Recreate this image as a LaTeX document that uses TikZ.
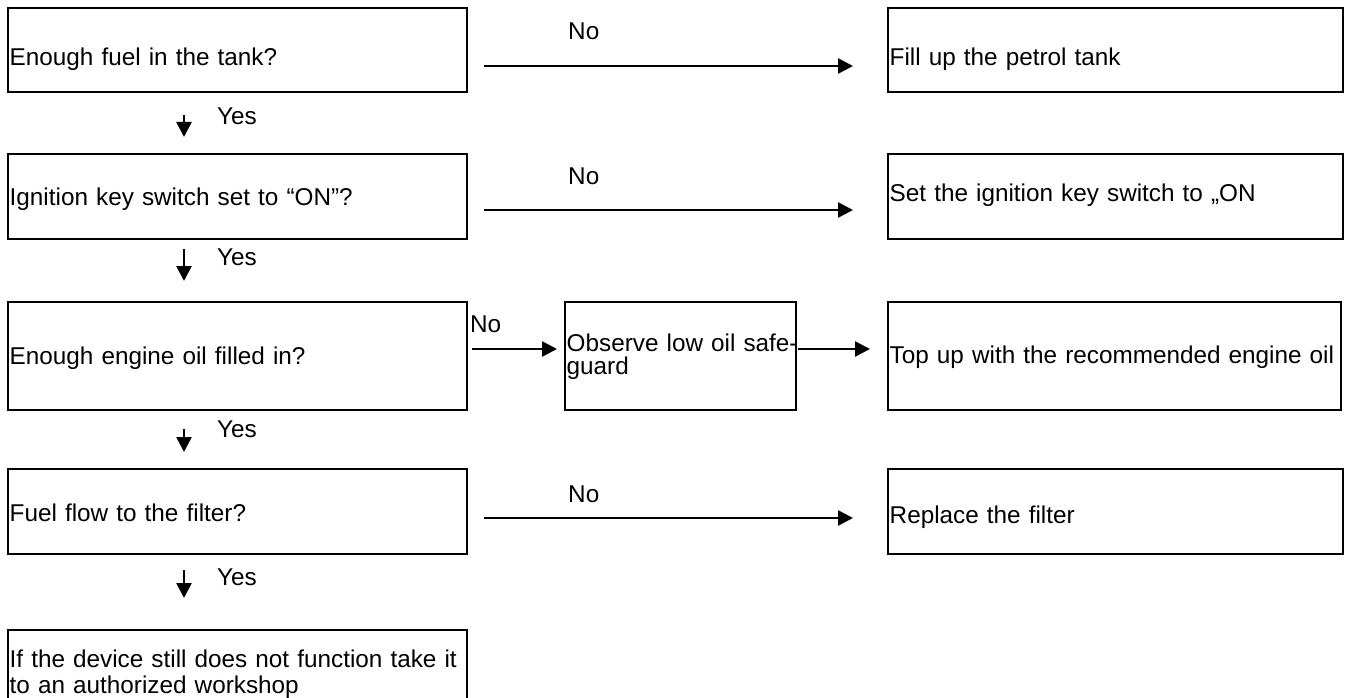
\documentclass[tikz,border=0pt]{standalone}
\usepackage{fontspec}
\setmainfont{Liberation Sans}
\usetikzlibrary{arrows.meta}
\tikzset{
  box/.style={draw, line width=2.4pt, rectangle, anchor=north west, inner xsep=1.5pt, inner ysep=0pt, align=left, font=\fontsize{24.3}{26}\selectfont},
  arr/.style={line width=2.6pt, -{Triangle[length=15pt,width=15pt]}},
  lbl/.style={anchor=base west, inner sep=0pt, font=\fontsize{24.3}{26}\selectfont},
}
\begin{document}
\begin{tikzpicture}[x=1pt,y=-1pt]
\useasboundingbox (0,0) rectangle (1350,698);
% left column
\node[box, minimum width=459pt, minimum height=84pt, text width=456pt, text height=57pt, text depth=27pt] (B1) at (7,7) {Enough fuel in the tank?};
\node[box, minimum width=459pt, minimum height=85pt, text width=456pt, text height=51pt, text depth=34pt] (B2) at (7,153) {Ignition key switch set to “ON”?};
\node[box, minimum width=459pt, minimum height=108pt, text width=456pt, text height=62pt, text depth=46pt] (B3) at (7,301) {Enough engine oil filled in?};
\node[box, minimum width=459pt, minimum height=85pt, text width=456pt, text height=52pt, text depth=33pt] (B4) at (7,468) {Fuel flow to the filter?};
\node[box, minimum width=459pt, minimum height=86pt, text width=456pt, text height=37pt, text depth=49pt, font=\fontsize{24.3}{26}\selectfont] (B5) at (7,629) {If the device still does not function take it\\to an authorized workshop};
% middle
\node[box, minimum width=231pt, minimum height=108pt, text width=228pt, text height=49pt, text depth=59pt, font=\fontsize{24.3}{23}\selectfont] (M) at (564,301) {\mbox{Observe low oil safe-}\\guard};
% right column
\node[box, minimum width=455pt, minimum height=84pt, text width=452pt, text height=57pt, text depth=27pt] (R1) at (887,7) {Fill up the petrol tank};
\node[box, minimum width=455pt, minimum height=85pt, text width=452pt, text height=47pt, text depth=38pt] (R2) at (887,153) {Set the ignition key switch to „ON};
\node[box, minimum width=453pt, minimum height=108pt, text width=450pt, text height=61pt, text depth=47pt] (R3) at (887,301) {Top up with the recommended engine oil};
\node[box, minimum width=455pt, minimum height=85pt, text width=452pt, text height=54pt, text depth=31pt] (R4) at (887,468) {Replace the filter};
% helper coordinates
\coordinate (h1) at (0,66);
\coordinate (h2) at (0,210);
\coordinate (h3) at (0,349);
\coordinate (h4) at (0,518);
\coordinate (vx) at (184,0);
% No arrows
\draw[arr, shorten <=16pt, shorten >=34pt] (B1.east |- h1) -- (R1.west |- h1);
\draw[arr, shorten <=16pt, shorten >=34pt] (B2.east |- h2) -- (R2.west |- h2);
\draw[arr, shorten <=4pt, shorten >=7pt] (B3.east |- h3) -- (M.west |- h3);
\draw[arr, shorten <=1pt, shorten >=17pt] (M.east |- h3) -- (R3.west |- h3);
\draw[arr, shorten <=16pt, shorten >=34pt] (B4.east |- h4) -- (R4.west |- h4);
% Yes arrows
\draw[arr, shorten <=22pt, shorten >=16pt] (B1.south -| vx) -- (B2.north -| vx);
\draw[arr, shorten <=9pt, shorten >=20pt] (B2.south -| vx) -- (B3.north -| vx);
\draw[arr, shorten <=18pt, shorten >=16pt] (B3.south -| vx) -- (B4.north -| vx);
\draw[arr, shorten <=15pt, shorten >=31pt] (B4.south -| vx) -- (B5.north -| vx);
% labels
\node[lbl] (n1) at (568,40) {No};
\node[lbl] (n2) at (568,185) {No};
\node[lbl] (n3) at (470,332) {No};
\node[lbl] (n4) at (568,502) {No};
\node[lbl] (y1) at (217,125) {Yes};
\node[lbl] (y2) at (217,265) {Yes};
\node[lbl] (y3) at (217,437) {Yes};
\node[lbl] (y4) at (217,585) {Yes};
\end{tikzpicture}
\end{document}
